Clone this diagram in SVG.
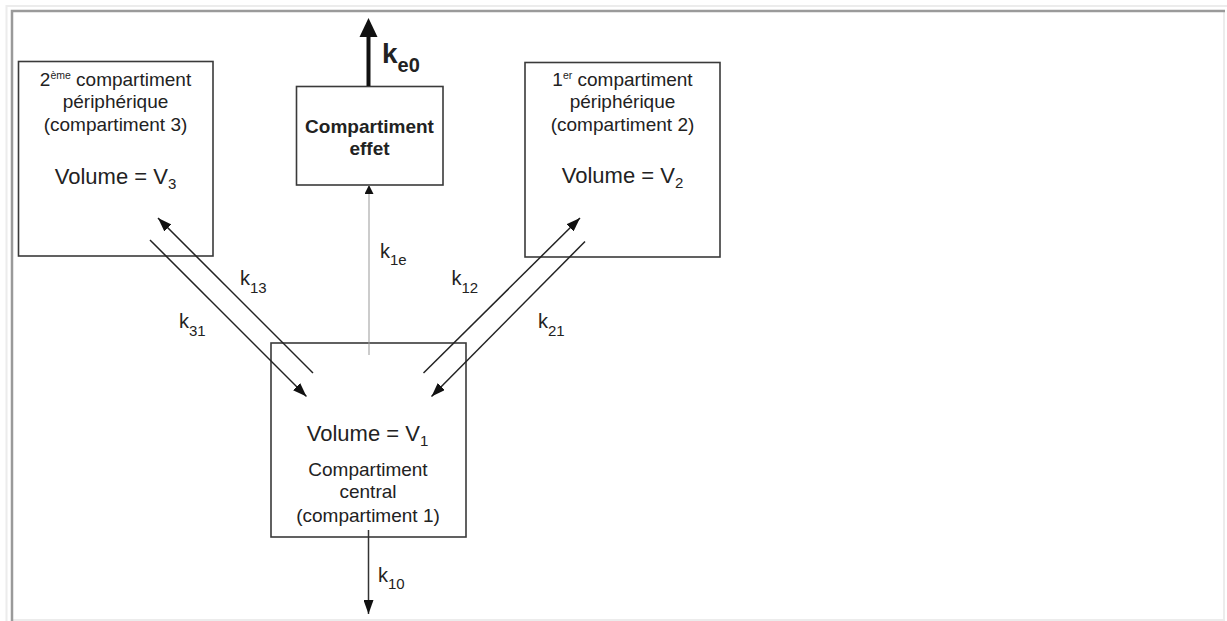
<svg xmlns="http://www.w3.org/2000/svg" width="1227" height="621" viewBox="0 0 1227 621">
<style>
.box{fill:none;stroke:#3a3a3a;stroke-width:1.6}
.t{font-family:"Liberation Sans",Arial,Helvetica,sans-serif;fill:#222;text-anchor:middle}
.d{font-size:19px}
.v{font-size:22px}
.b{font-size:19px;font-weight:bold}
.sup{font-size:10.5px}
.sub{font-size:15px}
.lbl{font-family:"Liberation Sans",Arial,Helvetica,sans-serif;fill:#222;font-size:20px}
.ln{fill:none;stroke:#222;stroke-width:1.5}
</style>
<defs>
<marker id="ah" viewBox="0 0 14 10" refX="14" refY="5" markerWidth="14" markerHeight="10" orient="auto" markerUnits="userSpaceOnUse"><path d="M0,0 L14,5 L0,10 z" fill="#111"/></marker>
<marker id="ahs" viewBox="0 0 9 9" refX="9" refY="4.5" markerWidth="9" markerHeight="9" orient="auto" markerUnits="userSpaceOnUse"><path d="M0,0 L9,4.5 L0,9 z" fill="#111"/></marker>
</defs>
<rect width="1227" height="621" fill="#fff"/>
<g id="frame" fill="none">
<path d="M6.5,621 V6 H1227" stroke="#ececec" stroke-width="2"/>
<path d="M1224,12 V620 H13" stroke="#ececec" stroke-width="2"/>
<path d="M12,621 V11 H1225" stroke="#9a9a9a" stroke-width="2.5"/>
</g>
<g id="comp3">
<rect class="box" x="18.5" y="61.5" width="194.5" height="194.5"/>
<text class="t d" x="115.5" y="86">2<tspan class="sup" dy="-7">ème</tspan><tspan dy="7"> compartiment</tspan></text>
<text class="t d" x="115.5" y="108">périphérique</text>
<text class="t d" x="115.5" y="130.5">(compartiment 3)</text>
<text class="t v" x="115.5" y="184">Volume = V<tspan class="sub" dy="5">3</tspan></text>
</g>
<g id="effet">
<rect class="box" x="296.5" y="86.5" width="146.5" height="98.5"/>
<text class="t b" x="369.5" y="133">Compartiment</text>
<text class="t b" x="369.5" y="154.5">effet</text>
</g>
<g id="comp2">
<rect class="box" x="525" y="62.5" width="195" height="194.5"/>
<text class="t d" x="622.5" y="86">1<tspan class="sup" dy="-7">er</tspan><tspan dy="7"> compartiment</tspan></text>
<text class="t d" x="622.5" y="108">périphérique</text>
<text class="t d" x="622.5" y="130.5">(compartiment 2)</text>
<text class="t v" x="622.5" y="183">Volume = V<tspan class="sub" dy="5">2</tspan></text>
</g>
<g id="comp1">
<rect class="box" x="271" y="343" width="195" height="194"/>
<text class="t v" x="367.5" y="440.5">Volume = V<tspan class="sub" dy="5">1</tspan></text>
<text class="t d" x="368" y="476">Compartiment</text>
<text class="t d" x="368" y="498">central</text>
<text class="t d" x="368" y="521.5">(compartiment 1)</text>
</g>
<g id="connectors">
<path class="ln" d="M313,373 L158,218" marker-end="url(#ah)"/>
<path class="ln" d="M150,240 L306.5,396.5" marker-end="url(#ah)"/>
<path class="ln" d="M423.5,373 L580,218" marker-end="url(#ah)"/>
<path class="ln" d="M585,241.5 L431.5,396.5" marker-end="url(#ah)"/>
<path d="M369,355 L369,185" fill="none" stroke="#999" stroke-width="1" marker-end="url(#ahs)"/>
<path d="M368.5,530 L368.5,614" fill="none" stroke="#333" stroke-width="1.5" marker-end="url(#ah)"/>
<path d="M368.5,86 L368.5,34" fill="none" stroke="#111" stroke-width="4"/>
<path d="M359.5,37 L368.5,18 L377.5,37 z" fill="#111"/>
</g>
<g id="labels">
<text class="lbl" x="382" y="63" style="font-weight:bold;font-size:28px">k<tspan dy="9" style="font-size:20px">e0</tspan></text>
<text class="lbl" x="380" y="258">k<tspan class="sub" dy="7">1e</tspan></text>
<text class="lbl" x="240" y="285">k<tspan class="sub" dy="7.5">13</tspan></text>
<text class="lbl" x="179" y="328">k<tspan class="sub" dy="8">31</tspan></text>
<text class="lbl" x="451.5" y="285">k<tspan class="sub" dy="8">12</tspan></text>
<text class="lbl" x="538" y="328">k<tspan class="sub" dy="8">21</tspan></text>
<text class="lbl" x="378" y="581.5">k<tspan class="sub" dy="7.5">10</tspan></text>
</g>
</svg>
